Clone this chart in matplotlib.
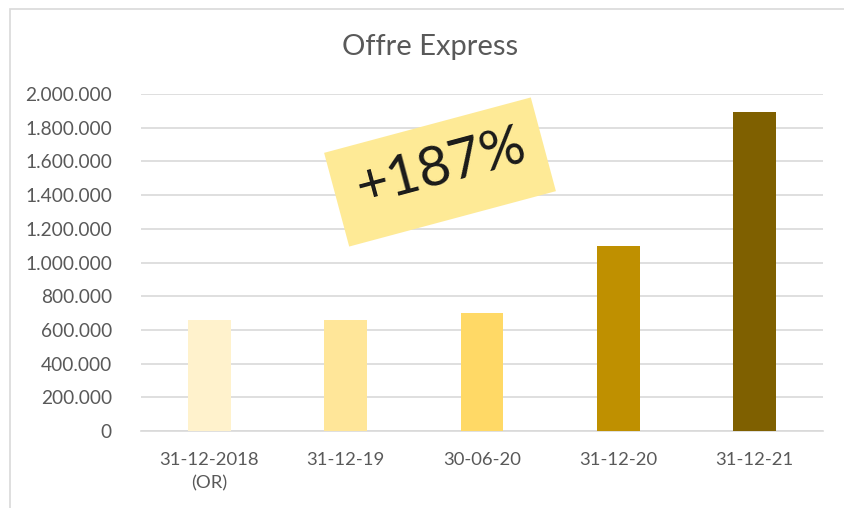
import matplotlib.pyplot as plt
from matplotlib.patches import Rectangle
from matplotlib.ticker import FuncFormatter

plt.rcParams["font.family"] = ["Lato", "DejaVu Sans"]

categories = ["31-12-2018\n(OR)", "31-12-19", "30-06-20", "31-12-20", "31-12-21"]
values = [660000, 660000, 700000, 1100000, 1895000]
colors = ["#FFF2CC", "#FFE699", "#FFD966", "#BF9000", "#7F6000"]
yticks = list(range(0, 2000001, 200000))
badge = "+187%"

fig = plt.figure(figsize=(8.44, 5.08), dpi=100)
ax = fig.add_axes([141 / 844, 1 - 431 / 508, 682 / 844, 337 / 508])

# chart-area border (partially cut in the reference)
fig.patches.append(Rectangle((10 / 844, -0.1), 1.1, 1.1 - 9 / 508,
                             transform=fig.transFigure, fill=False,
                             edgecolor="#D9D9D9", linewidth=1.2))

x = range(len(categories))
ax.bar(x, values, width=0.315, color=colors, zorder=3)

ax.set_xlim(-0.5, len(categories) - 0.5)
ax.set_ylim(0, 2000000)
ax.set_yticks(yticks)
ax.yaxis.set_major_formatter(FuncFormatter(lambda v, p: f"{int(v):,}".replace(",", ".")))
ax.set_xticks(list(x))
ax.set_xticklabels(categories, linespacing=1.55)
ax.grid(axis="y", color="#D9D9D9", linewidth=1.2, zorder=0)
for s in ["top", "right", "left"]:
    ax.spines[s].set_visible(False)
ax.spines["bottom"].set_color("#D9D9D9")
ax.spines["bottom"].set_linewidth(1.2)
ax.tick_params(axis="both", length=0, labelcolor="#595959")
ax.tick_params(axis="y", pad=21, labelsize=13.8)
ax.tick_params(axis="x", pad=15, labelsize=13.3)

fig.text(430 / 844, 1 - 47 / 508, "Offre Express", ha="center", va="center",
         fontsize=21, color="#595959")

# rotated sticker
fig.patches.append(Rectangle((4.40 - 1.07, 3.36 - 0.485), 2.14, 0.97, angle=15,
                             rotation_point="center", transform=fig.dpi_scale_trans,
                             facecolor="#FEEA96", edgecolor="none", zorder=5))
fig.text(441 / 844, 1 - 168 / 508, badge, ha="center", va="center", rotation=15,
         rotation_mode="anchor", fontsize=40, color="#1A1A1A", zorder=6)

fig.savefig("out.png", dpi=100, facecolor="white")
